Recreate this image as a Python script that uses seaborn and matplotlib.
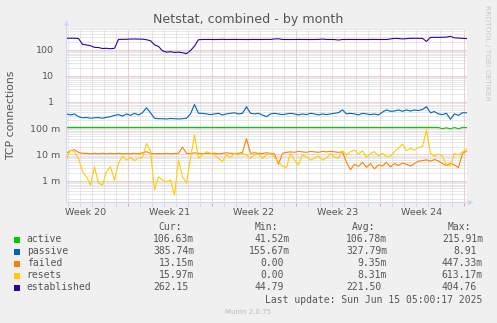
import numpy as np
import pandas as pd
import matplotlib
matplotlib.use("Agg")
import matplotlib.pyplot as plt
import matplotlib.transforms as mtransforms
from matplotlib.patches import Rectangle
from matplotlib.ticker import FixedLocator, LogLocator, NullFormatter
import seaborn as sns

# sample times in days from the left edge of the month window (one sample per 8 h)
days = np.arange(101) / 3.0

active = [0.107] * 94 + [0.096, 0.104, 0.095, 0.107, 0.096, 0.107, 0.1066]

passive = [0.35, 0.32, 0.35, 0.275, 0.25, 0.255, 0.24, 0.25, 0.255, 0.24,
           0.26, 0.275, 0.31, 0.33, 0.29, 0.35, 0.31, 0.37, 0.32, 0.39,
           0.60, 0.39, 0.24, 0.23, 0.23, 0.225, 0.235, 0.23, 0.225, 0.23,
           0.24, 0.35, 0.80, 0.37, 0.37, 0.35, 0.33, 0.35, 0.37, 0.32,
           0.35, 0.37, 0.39, 0.35, 0.37, 0.66, 0.37, 0.35, 0.37, 0.32,
           0.275, 0.35, 0.37, 0.35, 0.33, 0.35, 0.37, 0.35, 0.32, 0.35,
           0.33, 0.37, 0.35, 0.32, 0.35, 0.33, 0.35, 0.37, 0.39, 0.50,
           0.35, 0.37, 0.35, 0.32, 0.37, 0.35, 0.33, 0.35, 0.32, 0.41,
           0.50, 0.44, 0.45, 0.50, 0.44, 0.50, 0.45, 0.50, 0.47, 0.52,
           0.66, 0.39, 0.43, 0.35, 0.33, 0.37, 0.22, 0.35, 0.31, 0.39,
           0.386]

# failed and resets, in milli-connections
failed_m = [11, 14, 15, 12, 11, 11, 10.5, 11, 10.5, 11,
            10.5, 11, 10.5, 11, 10.5, 10.8, 10.5, 11, 10.5, 11.5,
            12.7, 11, 10.5, 10.8, 10.5, 11, 10.5, 10.8, 11, 19,
            11, 10.8, 11.5, 11, 10.5, 11, 10.8, 11, 10.5, 11,
            11.5, 11, 10.8, 11, 12, 40, 11, 11.5, 11, 10.8,
            11.5, 11, 10.5, 4.2, 11, 12, 12.5, 12, 13, 12.5,
            12, 13, 12.5, 12, 13, 12.5, 13, 12.5, 12, 12.5,
            5, 2.6, 4.2, 3.5, 5, 3.2, 4.5, 2.8, 4, 3.6,
            5, 3.3, 4.5, 3.8, 4.7, 4.2, 3.6, 4.5, 5.5, 5.8,
            6.2, 5.5, 6.4, 5.6, 4.5, 3.8, 4.6, 4, 3.1, 11,
            13.15]

resets_m = [6.5, 14.7, 12.7, 7.1, 2.2, 1.4, 0.68, 3.4, 0.8, 0.68,
            2.2, 3.4, 1.05, 4.6, 8.6, 6.1, 7.7, 5.8, 7.1, 7.7,
            26, 14, 0.44, 1.4, 1.05, 0.9, 1.05, 0.28, 6.1, 1.4,
            0.8, 7.1, 55, 7.1, 9.5, 12.7, 11, 9.5, 7.1, 5.3,
            9.5, 7.7, 11, 9.5, 11, 9.5, 7.1, 9.5, 10.3, 7.1,
            9.5, 11, 7.7, 5.3, 3.5, 3.2, 11, 6, 4, 9.5,
            8.2, 6.1, 7.1, 8.6, 6.1, 7.1, 11, 7.7, 7.1, 13.8,
            9.5, 12.7, 14.7, 10.3, 13.8, 7.7, 11, 12.7, 8.6, 11,
            8.2, 8.6, 12.7, 17, 25, 13.8, 17, 14.7, 18.5, 19.7,
            85, 11, 8.6, 10.3, 8.6, 3.9, 3.6, 11, 9.5, 12.7,
            15.97]

established = [270, 272, 270, 265, 159, 150, 141, 122, 120, 110,
               112, 108, 112, 246, 246, 248, 252, 254, 252, 250,
               238, 218, 152, 132, 90, 80, 83, 78, 80, 76,
               70, 92, 135, 238, 243, 244, 243, 242, 243, 245,
               243, 243, 244, 243, 243, 242, 243, 244, 243, 243,
               245, 243, 255, 258, 243, 243, 242, 243, 244, 243,
               243, 242, 243, 244, 252, 243, 243, 242, 232, 243,
               243, 244, 243, 243, 242, 243, 243, 244, 243, 243,
               243, 255, 268, 265, 255, 262, 270, 270, 268, 268,
               205, 292, 295, 293, 295, 300, 320, 280, 275, 270,
               262.15]

series_names = ["active", "passive", "failed", "resets", "established"]
series_colors = ["#00CC00", "#0066B3", "#FF8000", "#FFCC00", "#330099"]

cur_vals = ["106.63m", "385.74m", "13.15m", "15.97m", "262.15"]
min_vals = ["41.52m", "155.67m", "0.00", "0.00", "44.79"]
avg_vals = ["106.78m", "327.79m", "9.35m", "8.31m", "221.50"]
max_vals = ["215.91m", "8.91", "447.33m", "613.17m", "404.76"]

week_starts = [5.1, 12.1, 19.1, 26.1, 33.1]
week_labels = ["Week 20", "Week 21", "Week 22", "Week 23", "Week 24"]
ytick_vals = [1e-3, 1e-2, 1e-1, 1, 10, 100]
ytick_labels = ["1 m", "10 m", "100 m", "1", "10", "100"]

title = "Netstat, combined - by month"
ylabel = "TCP connections"
last_update = "Last update: Sun Jun 15 05:00:17 2025"
footer = "Munin 2.0.75"
watermark = "RRDTOOL / TOBI OETIKER"

# ---------------------------------------------------------------------------
W, H = 497, 323
BG = "#F0F0F0"
FG = "#555555"
AXIS = "#CFD6F8"

def fx(px):
    return px / W

def fy(py):
    return 1 - py / H

fig = plt.figure(figsize=(W / 100, H / 100), dpi=100, facecolor=BG)
ax = fig.add_axes([fx(66.5), fy(202.5), (467.5 - 66.5) / W, (202.5 - 28.5) / H])
ax.set_facecolor("white")

values = [np.asarray(active), np.asarray(passive), np.asarray(failed_m) / 1000.0,
          np.asarray(resets_m) / 1000.0, np.asarray(established)]
df = pd.concat([pd.DataFrame({"day": days, "value": v, "series": n})
                for n, v in zip(series_names, values)], ignore_index=True)

sns.lineplot(data=df, x="day", y="value", hue="series", hue_order=series_names,
             palette=dict(zip(series_names, series_colors)), estimator=None,
             sort=False, legend=False, linewidth=0.8, ax=ax)

ax.set_yscale("log")
ax.set_xlim(0, 33.42)
ax.set_ylim(1.46e-4, 638)
ax.set_xlabel("")
ax.set_ylabel("")

# grid: days / log sub-decades in grey, weeks / decades in red
ax.xaxis.set_major_locator(FixedLocator(week_starts))
ax.xaxis.set_minor_locator(FixedLocator(np.arange(0.1, 33.4, 1.0)))
ax.xaxis.set_major_formatter(NullFormatter())
ax.xaxis.set_minor_formatter(NullFormatter())
ax.set_yticks(ytick_vals, labels=ytick_labels)
ax.yaxis.set_minor_locator(LogLocator(base=10, subs=np.arange(2, 10), numticks=30))
ax.yaxis.set_minor_formatter(NullFormatter())

dots = (0, (1, 1))
ax.grid(which="minor", color="#D2D2D2", linestyle=dots, linewidth=0.72)
ax.grid(which="major", color="#DCA4A4", linestyle=dots, linewidth=0.72)
ax.set_axisbelow(True)

ax.tick_params(axis="x", which="minor", length=2, width=0.72, color="#D2D2D2")
ax.tick_params(axis="x", which="major", length=2, width=0.72, color="#DCA4A4")
ax.tick_params(axis="y", which="both", length=0)
ax.tick_params(axis="y", which="major", pad=4.7, labelsize=6.8, labelcolor=FG)

# unit-less decade labels sit a little further left
shift = mtransforms.ScaledTranslation(-0.06, 0, fig.dpi_scale_trans)
for lab in ax.get_yticklabels():
    if "m" not in lab.get_text():
        lab.set_transform(lab.get_transform() + shift)

for s in ax.spines.values():
    s.set_visible(False)

# axes with arrow heads
arrow = dict(arrowstyle="-|>", color=AXIS, lw=0.8, mutation_scale=7,
             shrinkA=0, shrinkB=0)
ax.annotate("", xy=(0, 1.048), xytext=(0, 0), xycoords="axes fraction",
            arrowprops=arrow, annotation_clip=False)
ax.annotate("", xy=(1.015, 0), xytext=(0, 0), xycoords="axes fraction",
            arrowprops=arrow, annotation_clip=False)

# week labels centred within each week
lab_tr = mtransforms.blended_transform_factory(ax.transData, ax.transAxes)
for ws, wl in zip(week_starts, week_labels):
    ax.text(ws - 3.5, -0.0586, wl, transform=lab_tr, ha="center", va="center",
            fontsize=6.8, color=FG)

fig.text(fx(248), fy(19), title, ha="center", va="center", fontsize=9.1, color=FG)
fig.text(fx(11), fy(115.5), ylabel, rotation=90, ha="center", va="center",
         fontsize=7.85, color=FG)
fig.text(fx(487), fy(53), watermark, rotation=270, ha="center", va="center",
         fontsize=5.4, color="#C8C8C8")

# legend table
mono = "DejaVu Sans Mono"
msz = 7.0
cw = 5.85
cols = [194, 290, 387, 483]
heads = ["Cur:", "Min:", "Avg:", "Max:"]
y_head = 227.5
for cx, hd in zip(cols, heads):
    fig.text(fx(cx - 2 * cw), fy(y_head), hd, ha="right", va="center",
             family=mono, fontsize=msz, color=FG)

for k, (name, col) in enumerate(zip(series_names, series_colors)):
    yr = 239.5 + 12 * k
    fig.patches.append(Rectangle((fx(14), fy(yr + 3)), 6 / W, 6 / H,
                                 transform=fig.transFigure, facecolor=col,
                                 edgecolor="none"))
    fig.text(fx(26.7), fy(yr), name, ha="left", va="center", family=mono,
             fontsize=msz, color=FG)
    for cx, vals in zip(cols, [cur_vals, min_vals, avg_vals, max_vals]):
        s = vals[k]
        xr = cx if s.endswith("m") else cx - cw
        fig.text(fx(xr), fy(yr), s, ha="right", va="center", family=mono,
                 fontsize=msz, color=FG)

fig.text(fx(482.7), fy(299.7), last_update, ha="right", va="center",
         family=mono, fontsize=msz, color=FG)
fig.text(fx(247.8), fy(311.7), footer, ha="center", va="center",
         fontsize=5.0, color="#BBBBBB")

fig.savefig("out.png", dpi=100, facecolor=BG)
